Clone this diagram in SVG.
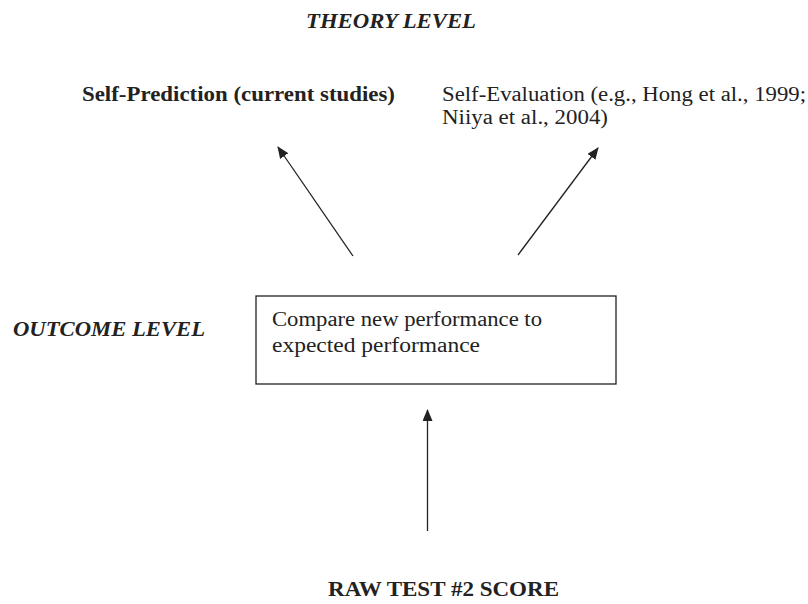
<svg xmlns="http://www.w3.org/2000/svg" width="808" height="604" viewBox="0 0 808 604">
<style>
text{font-family:"Liberation Serif","Times New Roman",serif;font-size:20px;fill:#222}
.b{font-weight:bold;font-size:21px}
.bi{font-weight:bold;font-style:italic;font-size:21px}
.c{stroke:#222;stroke-width:1.3;fill:none}
</style>
<defs>
<marker id="ah" viewBox="0 0 12 10" refX="11" refY="5" markerWidth="12" markerHeight="10" markerUnits="userSpaceOnUse" orient="auto">
<path d="M0,0 L12,5 L0,10 z" fill="#222"/>
</marker>
</defs>
<rect width="808" height="604" fill="#fff"/>
<g id="theory"><text class="bi" x="306" y="28" textLength="170" lengthAdjust="spacingAndGlyphs">THEORY LEVEL</text></g>
<g id="selfpred"><text class="b" x="82" y="101" textLength="313" lengthAdjust="spacingAndGlyphs">Self-Prediction (current studies)</text></g>
<g id="selfeval"><text x="442" y="101" textLength="364" lengthAdjust="spacingAndGlyphs">Self-Evaluation (e.g., Hong et al., 1999;</text><text x="442" y="124" textLength="166" lengthAdjust="spacingAndGlyphs">Niiya et al., 2004)</text></g>
<g id="outcome"><text class="bi" x="13" y="336" textLength="192" lengthAdjust="spacingAndGlyphs">OUTCOME LEVEL</text></g>
<g id="compare"><rect x="256" y="296" width="360" height="88" fill="none" stroke="#222" stroke-width="1.3"/><text x="272" y="326" textLength="270" lengthAdjust="spacingAndGlyphs">Compare new performance to</text><text x="272" y="352" textLength="208" lengthAdjust="spacingAndGlyphs">expected performance</text></g>
<g id="raw"><text class="b" x="328" y="596" textLength="231" lengthAdjust="spacingAndGlyphs">RAW TEST #2 SCORE</text></g>
<g id="connectors">
<line class="c" x1="353" y1="256" x2="278" y2="147" marker-end="url(#ah)"/>
<line class="c" x1="518" y1="255" x2="598" y2="148" marker-end="url(#ah)"/>
<line class="c" x1="427.5" y1="531" x2="427.5" y2="410" marker-end="url(#ah)"/>
</g>
</svg>
